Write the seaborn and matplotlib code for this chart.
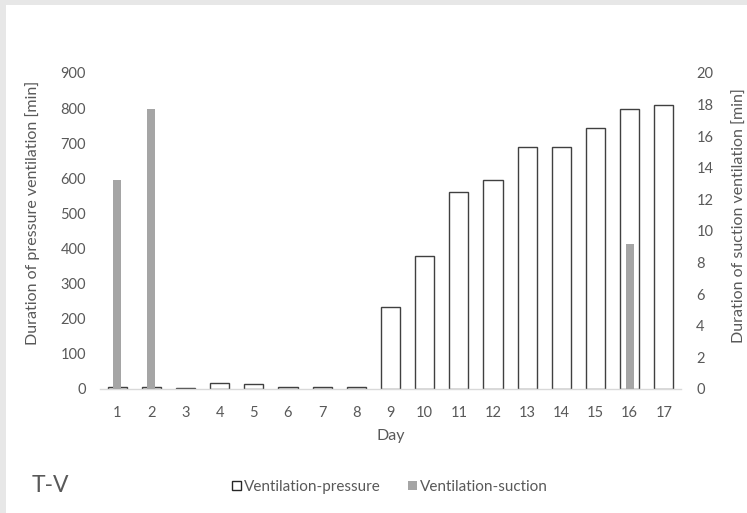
import numpy as np
import pandas as pd
import seaborn as sns
import matplotlib.pyplot as plt
from matplotlib.patches import Rectangle, Patch

# Data
days = [str(d) for d in range(1, 18)]
pressure_min = [5, 5, 2, 16, 15, 7, 7, 7, 234, 379, 562, 596, 690, 690, 742, 797, 810]
suction_min = [13.2, 17.7, 0, 0, 0, 0, 0, 0, 0, 0, 0, 0, 0, 0, 0, 9.15, 0]

df = pd.DataFrame({'Day': days, 'pressure': pressure_min, 'suction': suction_min})

sns.set_style('white')
plt.rcParams['font.family'] = ['Lato', 'DejaVu Sans']
text_col = '#595959'

fig = plt.figure(figsize=(7.47, 5.13), dpi=100)
fig.patch.set_facecolor('#e7e7e7')
# white panel (gray frame only on left and top edges)
fig.patches.append(Rectangle((6 / 747, 0), 1, 1 - 5 / 513, transform=fig.transFigure,
                             facecolor='white', edgecolor='none', zorder=-10))

ax = fig.add_axes([100 / 747, 1 - 389 / 513, 581 / 747, 316 / 513])
ax.set_facecolor('none')

sns.barplot(data=df, x='Day', y='pressure', ax=ax, color='white', width=0.56,
            edgecolor='#404040', linewidth=1.0, saturation=1)
ax.set_ylim(0, 900)
ax.set_yticks(range(0, 901, 100))
ax.set_xlim(-0.5, 16.5)

ax2 = ax.twinx()
sns.barplot(data=df, x='Day', y='suction', ax=ax2, color='#a5a5a5', width=0.24,
            linewidth=0, saturation=1)
ax2.set_ylim(0, 20)
ax2.set_yticks(range(0, 21, 2))
ax2.set_xlim(-0.5, 16.5)

for a in (ax, ax2):
    for s in a.spines.values():
        s.set_visible(False)
    a.tick_params(length=0, labelsize=10.5, labelcolor=text_col)
ax.spines['bottom'].set_visible(True)
ax.spines['bottom'].set_color('#d9d9d9')
ax.spines['bottom'].set_linewidth(1.0)

ax.tick_params(axis='y', pad=10)
ax.tick_params(axis='x', pad=12)
ax2.tick_params(axis='y', pad=11)

ax.set_xlabel('Day', fontsize=11.5, color=text_col, labelpad=7)
ax.set_ylabel('Duration of pressure ventilation [min]', fontsize=11.5, color=text_col)
ax.yaxis.set_label_coords(-0.104, 0.557)
ax2.set_ylabel('Duration of suction ventilation [min]', fontsize=11.5, color=text_col,
               rotation=90)
ax2.yaxis.set_label_coords(1.089, 0.55)

handles = [Patch(facecolor='white', edgecolor='#262626', linewidth=1.0, label='Ventilation-pressure'),
           Patch(facecolor='#a5a5a5', edgecolor='none', label='Ventilation-suction')]
leg = fig.legend(handles=handles, loc='center', bbox_to_anchor=(0.522, 1 - 487 / 513),
                 ncol=2, frameon=False, fontsize=11, handlelength=0.6, handleheight=0.6,
                 handletextpad=0.2, columnspacing=1.8)
for t in leg.get_texts():
    t.set_color(text_col)

fig.text(32 / 747, 1 - 485 / 513, 'T-V', fontsize=16.5, color=text_col, va='center', ha='left')

fig.savefig('out.png', dpi=100, facecolor=fig.get_facecolor())
